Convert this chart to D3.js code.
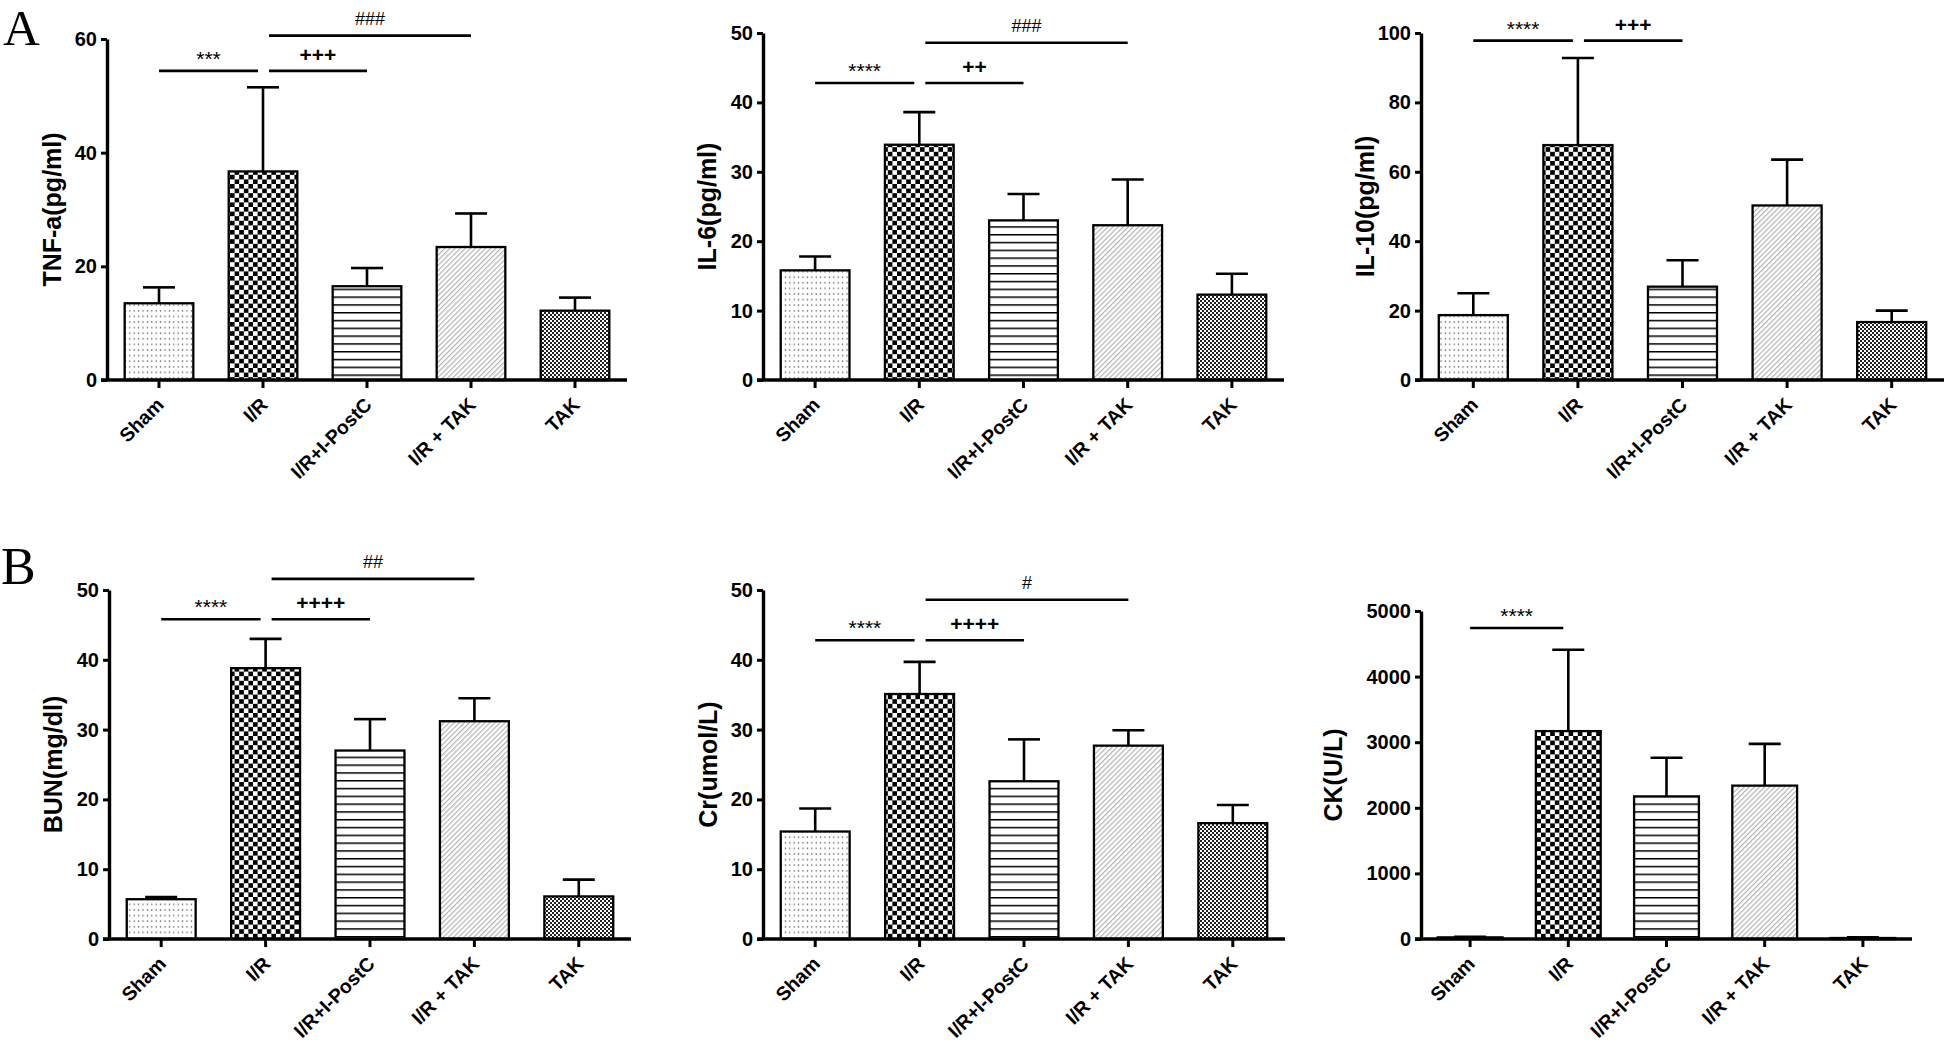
<!DOCTYPE html>
<html><head><meta charset="utf-8">
<script src="https://cdn.jsdelivr.net/npm/d3@7"></script>
<style>body{margin:0;background:#fff} svg{display:block}</style>
</head><body>
<svg id="chart" width="1946" height="1045"></svg>
<script>
// ---------------- data ----------------
const categories = ["Sham", "I/R", "I/R+I-PostC", "I/R + TAK", "TAK"];

const tnfMean = [13.5, 36.7, 16.5, 23.4, 12.2];
const tnfErr  = [2.8, 14.8, 3.2, 5.9, 2.3];
const il6Mean = [15.8, 33.9, 23.0, 22.3, 12.3];
const il6Err  = [2.0, 4.7, 3.8, 6.6, 3.0];
const il10Mean = [18.7, 67.7, 26.9, 50.3, 16.7];
const il10Err  = [6.3, 25.1, 7.6, 13.2, 3.3];
const bunMean = [5.7, 38.8, 27.0, 31.2, 6.1];
const bunErr  = [0.3, 4.2, 4.5, 3.3, 2.4];
const crMean = [15.4, 35.1, 22.6, 27.7, 16.6];
const crErr  = [3.3, 4.6, 6.0, 2.2, 2.6];
const ckMean = [25, 3169, 2174, 2338, 15];
const ckErr  = [10, 1241, 590, 636, 10];

// significance brackets: from group, to group, mark, level (data units)
const tnfSig  = [{a:0,b:1,t:"***",v:54.4},{a:1,b:2,t:"+++",v:54.4},{a:1,b:3,t:"###",v:60.6}];
const il6Sig  = [{a:0,b:1,t:"****",v:42.8},{a:1,b:2,t:"++",v:42.8},{a:1,b:3,t:"###",v:48.6}];
const il10Sig = [{a:0,b:1,t:"****",v:97.8},{a:1,b:2,t:"+++",v:97.8}];
const bunSig  = [{a:0,b:1,t:"****",v:45.8},{a:1,b:2,t:"++++",v:45.8},{a:1,b:3,t:"##",v:51.6}];
const crSig   = [{a:0,b:1,t:"****",v:42.8},{a:1,b:2,t:"++++",v:42.8},{a:1,b:3,t:"#",v:48.6}];
const ckSig   = [{a:0,b:1,t:"****",v:4741}];

const yTitles = ["TNF-a(pg/ml)", "IL-6(pg/ml)", "IL-10(pg/ml)", "BUN(mg/dl)", "Cr(umol/L)", "CK(U/L)"];
const yMax   = [60, 50, 100, 50, 50, 5000];
const yStep  = [20, 10, 20, 10, 10, 1000];
const panelLetters = ["A", "B"];

// ---------------- layout ----------------
const panels = [
  {mean:tnfMean, err:tnfErr, sig:tnfSig,  x0:107,  x1:627,  yTop:39,  yBot:380, lab:55},
  {mean:il6Mean, err:il6Err, sig:il6Sig,  x0:763,  x1:1284, yTop:33,  yBot:380, lab:56},
  {mean:il10Mean,err:il10Err,sig:il10Sig, x0:1421, x1:1944, yTop:33,  yBot:380, lab:56},
  {mean:bunMean, err:bunErr, sig:bunSig,  x0:109,  x1:631,  yTop:590, yBot:939, lab:56},
  {mean:crMean,  err:crErr,  sig:crSig,   x0:763,  x1:1285, yTop:590, yBot:939, lab:55},
  {mean:ckMean,  err:ckErr,  sig:ckSig,   x0:1421, x1:1912, yTop:611, yBot:939, lab:88}
];
const fills = ["url(#pDots)", "url(#pCheck)", "url(#pLines)", "url(#pDiag)", "url(#pFine)"];
const FONT = "'Liberation Sans', Arial, Helvetica, sans-serif";

const svg = d3.select("#chart");
const defs = svg.append("defs");

// patterns
const pd = defs.append("pattern").attr("id","pDots").attr("patternUnits","userSpaceOnUse")
  .attr("width",4.4).attr("height",5.6);
pd.append("rect").attr("width",4.4).attr("height",5.6).attr("fill","#fff");
pd.append("rect").attr("x",1.6).attr("y",2.2).attr("width",1.2).attr("height",1.2).attr("fill","#333");

const pc = defs.append("pattern").attr("id","pCheck").attr("patternUnits","userSpaceOnUse")
  .attr("width",9.2).attr("height",9.2);
pc.append("rect").attr("width",9.2).attr("height",9.2).attr("fill","#fff");
pc.append("rect").attr("width",4.6).attr("height",4.6).attr("fill","#000");
pc.append("rect").attr("x",4.6).attr("y",4.6).attr("width",4.6).attr("height",4.6).attr("fill","#000");

const pl = defs.append("pattern").attr("id","pLines").attr("patternUnits","userSpaceOnUse")
  .attr("width",10).attr("height",7.8);
pl.append("rect").attr("width",10).attr("height",7.8).attr("fill","#fff");
pl.append("rect").attr("y",0).attr("width",10).attr("height",1.5).attr("fill","#000");

const pg = defs.append("pattern").attr("id","pDiag").attr("patternUnits","userSpaceOnUse")
  .attr("width",3.6).attr("height",3.6).attr("patternTransform","rotate(45)");
pg.append("rect").attr("width",3.6).attr("height",3.6).attr("fill","#fff");
pg.append("line").attr("x1",0.6).attr("x2",0.6).attr("y1",0).attr("y2",3.6)
  .attr("stroke","#a8a8a8").attr("stroke-width",1);

const pf = defs.append("pattern").attr("id","pFine").attr("patternUnits","userSpaceOnUse")
  .attr("width",4).attr("height",4);
pf.append("rect").attr("width",4).attr("height",4).attr("fill","#fff");
pf.append("rect").attr("width",2).attr("height",2).attr("fill","#222");
pf.append("rect").attr("x",2).attr("y",2).attr("width",2).attr("height",2).attr("fill","#222");

// panel letters
svg.append("text").attr("x",3).attr("y",45).text(panelLetters[0])
  .attr("font-family","'Liberation Serif', 'Times New Roman', serif").attr("font-size",51).attr("fill","#000");
svg.append("text").attr("x",1).attr("y",584).text(panelLetters[1])
  .attr("font-family","'Liberation Serif', 'Times New Roman', serif").attr("font-size",52).attr("fill","#000");

panels.forEach((p, i) => {
  const g = svg.append("g");
  const x = d3.scaleBand().domain(categories).range([p.x0, p.x1]).paddingInner(0.34).paddingOuter(0.17);
  const y = d3.scaleLinear().domain([0, yMax[i]]).range([p.yBot, p.yTop]);
  const cx = c => x(c) + x.bandwidth()/2;

  // error bars
  const eb = g.append("g");
  categories.forEach((c, k) => {
    const top = p.mean[k] + p.err[k];
    eb.append("line").attr("x1",cx(c)).attr("x2",cx(c)).attr("y1",y(p.mean[k])).attr("y2",y(top))
      .attr("stroke","#000").attr("stroke-width",2.6);
    eb.append("line").attr("x1",cx(c)-16).attr("x2",cx(c)+16).attr("y1",y(top)).attr("y2",y(top))
      .attr("stroke","#000").attr("stroke-width",2.6);
  });

  // bars
  g.append("g").selectAll("rect").data(categories).join("rect")
    .attr("x", c => x(c)).attr("width", x.bandwidth())
    .attr("y", (c,k) => y(p.mean[k])).attr("height", (c,k) => y(0) - y(p.mean[k]))
    .attr("fill", (c,k) => fills[k]).attr("stroke","#000").attr("stroke-width",2.3);

  // y axis
  const yAxis = d3.axisLeft(y).tickValues(d3.range(0, yMax[i] + 1e-9, yStep[i]))
    .tickSize(6).tickSizeOuter(0).tickPadding(4).tickFormat(d3.format("d"));
  const ya = g.append("g").attr("transform",`translate(${p.x0},0)`).call(yAxis);
  ya.select(".domain").attr("stroke","#000").attr("stroke-width",3.4);
  ya.selectAll(".tick line").attr("stroke","#000").attr("stroke-width",3);
  ya.selectAll(".tick text").attr("font-family",FONT).attr("font-weight","bold")
    .attr("font-size",20).attr("fill","#000");

  // x axis
  const xAxis = d3.axisBottom(x).tickSize(8).tickSizeOuter(0).tickPadding(0);
  const xa = g.append("g").attr("transform",`translate(0,${p.yBot})`).call(xAxis);
  xa.select(".domain").remove();
  xa.append("line").attr("x1",p.x0-6).attr("x2",p.x1).attr("y1",0).attr("y2",0)
    .attr("stroke","#000").attr("stroke-width",3.6);
  xa.selectAll(".tick line").attr("stroke","#000").attr("stroke-width",3);
  xa.selectAll(".tick text").attr("font-family",FONT).attr("font-weight","bold")
    .attr("font-size",19.5).attr("fill","#000")
    .attr("text-anchor","end").attr("x",0).attr("y",0).attr("dy",0)
    .attr("transform","translate(6,26) rotate(-45)");

  // y title
  g.append("text").attr("transform",`translate(${p.x0 - p.lab},${(p.yTop+p.yBot)/2}) rotate(-90)`)
    .attr("dy","0.35em").attr("text-anchor","middle").text(yTitles[i])
    .attr("font-family",FONT).attr("font-weight","bold").attr("font-size",25).attr("fill","#000");

  // significance
  p.sig.forEach(s => {
    const x1 = cx(categories[s.a]) + (s.a === 1 ? 6 : 0);
    const x2 = cx(categories[s.b]) - (s.b === 1 ? 5 : 0);
    const ly = y(s.v);
    g.append("line").attr("x1",x1).attr("x2",x2).attr("y1",ly).attr("y2",ly)
      .attr("stroke","#000").attr("stroke-width",2.6);
    const ch = s.t[0];
    const off = ch === "*" ? 5 : (ch === "+" ? 9 : 11);
    const fs = ch === "#" ? 18 : 21;
    g.append("text").attr("x",(x1+x2)/2).attr("y",ly - off).attr("text-anchor","middle").text(s.t)
      .attr("font-family",FONT).attr("font-size",fs).attr("fill","#000")
      .attr("font-weight", ch === "+" ? "bold" : "normal");
  });
});
</script>
</body></html>
